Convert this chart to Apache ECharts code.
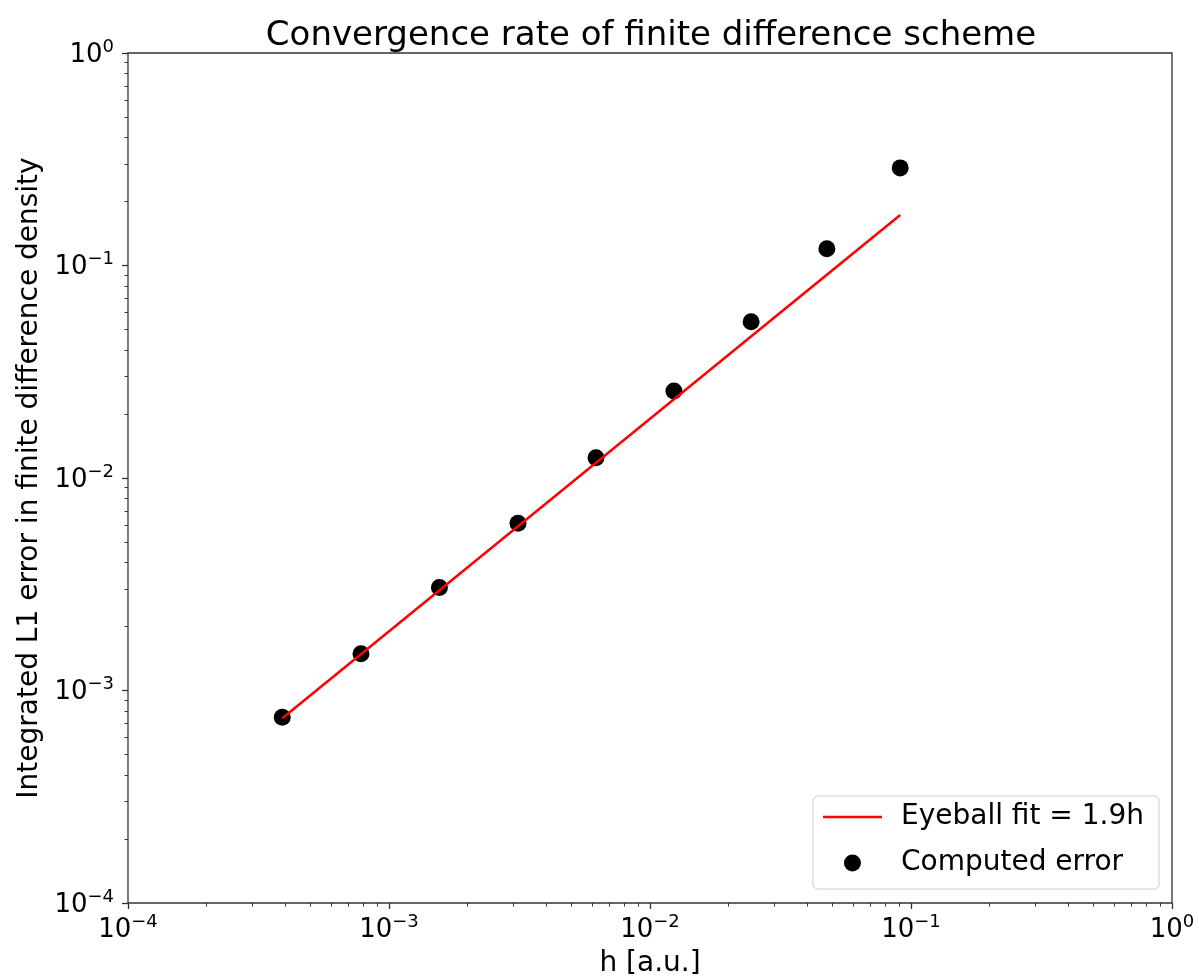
<!DOCTYPE html>
<html>
<head>
<meta charset="utf-8">
<script src="https://cdn.jsdelivr.net/npm/echarts@6/dist/echarts.min.js"></script>
<style>
  html, body { margin: 0; padding: 0; background: #fff; }
  #chart { width: 1199px; height: 977px; }
</style>
</head>
<body>
<div id="chart"></div>
<script>
// Grid spacing h and the integrated L1 error measured at each resolution
const stepSizes = [0.000390, 0.000781, 0.00156, 0.00312, 0.00621, 0.01235, 0.0244, 0.0476, 0.0909];
const computedErrors = [0.000748, 0.00149, 0.00305, 0.00612, 0.01246, 0.0257, 0.0544, 0.120, 0.288];

// Eyeball fit error = 1.9 h, between the smallest and the largest h
const fitSteps = [0.000390, 0.0909];
const fitErrors = [0.000741, 0.1727];

// Decade ticks (labelled) and the 2..9 sub-decade ticks (unlabelled)
const majorTicks = [1e-4, 1e-3, 1e-2, 1e-1, 1];
const minorTicks = [
  2e-4, 3e-4, 4e-4, 5e-4, 6e-4, 7e-4, 8e-4, 9e-4,
  2e-3, 3e-3, 4e-3, 5e-3, 6e-3, 7e-3, 8e-3, 9e-3,
  2e-2, 3e-2, 4e-2, 5e-2, 6e-2, 7e-2, 8e-2, 9e-2,
  0.2, 0.3, 0.4, 0.5, 0.6, 0.7, 0.8, 0.9
];

const FONT = 'DejaVu Sans';
const INK = '#000';
const FRAME = '#333';

// "10" with the exponent set as a superscript
function powerLabel(v) {
  const e = Math.round(Math.log10(v));
  const exp = e < 0 ? '\u2212' + Math.abs(e) : String(e);
  return '{b|10}{s|' + exp + '}';
}
const powerRich = {
  b: { fontFamily: FONT, fontSize: 26, lineHeight: 30, color: INK, verticalAlign: 'bottom' },
  s: { fontFamily: FONT, fontSize: 18, lineHeight: 16, color: INK, verticalAlign: 'top' }
};

function majorAxis(extra) {
  return Object.assign({
    type: 'log',
    logBase: 10,
    min: 1e-4,
    max: 1,
    gridIndex: 0,
    axisLine: { show: false },
    splitLine: { show: false },
    minorTick: { show: false },
    axisTick: { show: true, inside: false, customValues: majorTicks, length: 6,
                lineStyle: { color: FRAME, width: 1.3 } },
    nameTextStyle: { fontFamily: FONT, fontSize: 28, color: INK }
  }, extra);
}

function minorAxis(extra) {
  return Object.assign({
    type: 'log',
    logBase: 10,
    min: 1e-4,
    max: 1,
    gridIndex: 0,
    axisLine: { show: false },
    splitLine: { show: false },
    axisLabel: { show: false },
    minorTick: { show: false },
    axisTick: { show: true, inside: false, customValues: minorTicks, length: 3.5,
                lineStyle: { color: FRAME, width: 1 } }
  }, extra);
}

// Legend key for the fit: a plain horizontal stroke centred in the key box
const FIT_KEY = 'path://M0,0M0,7.2H59V9.8H0ZM59,17';

const chart = echarts.init(document.getElementById('chart'), null, { renderer: 'canvas' });

chart.setOption({
  animation: false,
  backgroundColor: '#fff',
  title: {
    text: 'Convergence rate of finite difference scheme',
    left: 646,
    top: 14,
    textAlign: 'center',
    textStyle: { fontFamily: FONT, fontSize: 34, fontWeight: 'normal', color: INK }
  },
  grid: {
    left: 128, right: 27, top: 53, bottom: 74,
    containLabel: false,
    outerBoundsMode: 'none',
    show: true,
    borderColor: FRAME,
    borderWidth: 1.3,
    backgroundColor: 'transparent'
  },
  legend: {
    orient: 'vertical',
    right: 40,
    bottom: 88,
    data: [
      { name: 'Eyeball fit = 1.9h', icon: FIT_KEY },
      { name: 'Computed error', icon: 'circle' }
    ],
    itemWidth: 59,
    itemHeight: 17,
    itemGap: 18,
    padding: [7, 15, 12, 10],
    borderColor: '#cccccc',
    borderWidth: 1,
    borderRadius: 5,
    backgroundColor: 'rgba(255,255,255,0.8)',
    textStyle: { fontFamily: FONT, fontSize: 28, color: INK, padding: [0, 0, 0, 14] }
  },
  xAxis: [
    majorAxis({
      position: 'bottom',
      name: 'h [a.u.]',
      nameLocation: 'middle',
      nameGap: 47,
      axisLabel: { customValues: majorTicks, margin: 10, formatter: powerLabel, rich: powerRich }
    }),
    minorAxis({ position: 'bottom' })
  ],
  yAxis: [
    majorAxis({
      position: 'left',
      name: 'Integrated L1 error in finite difference density',
      nameLocation: 'middle',
      nameGap: 84,
      axisLabel: { customValues: majorTicks, margin: 14, formatter: powerLabel, rich: powerRich }
    }),
    minorAxis({ position: 'left' })
  ],
  series: [
    {
      name: 'Computed error',
      type: 'scatter',
      xAxisIndex: 0,
      yAxisIndex: 0,
      data: stepSizes.map((h, i) => [h, computedErrors[i]]),
      symbol: 'circle',
      symbolSize: 17,
      itemStyle: { color: '#000', opacity: 1 },
      z: 2
    },
    {
      name: 'Eyeball fit = 1.9h',
      type: 'line',
      xAxisIndex: 0,
      yAxisIndex: 0,
      data: fitSteps.map((h, i) => [h, fitErrors[i]]),
      symbol: 'none',
      showSymbol: false,
      lineStyle: { color: '#ff0000', width: 2.5 },
      itemStyle: { color: '#ff0000' },
      z: 3
    }
  ]
});
</script>
</body>
</html>
